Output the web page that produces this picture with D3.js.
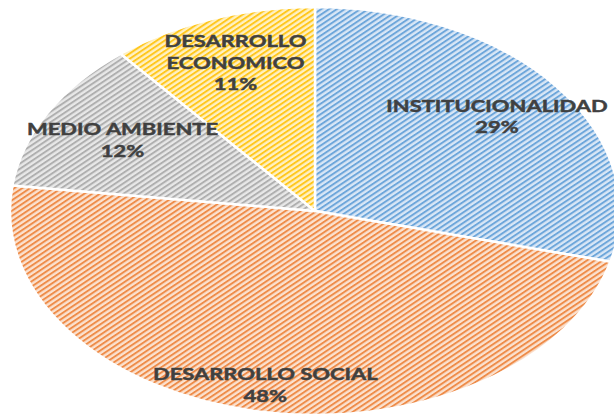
<!DOCTYPE html>
<html><head><meta charset="utf-8">
<script src="https://cdn.jsdelivr.net/npm/d3@7"></script>
<style>html,body{margin:0;padding:0;background:#fff;overflow:hidden}</style>
</head><body>
<svg id="c" width="614" height="420"></svg>
<script>
const categories = ["INSTITUCIONALIDAD", "DESARROLLO SOCIAL", "MEDIO AMBIENTE", "DESARROLLO ECONOMICO"];
const values = [29, 48, 12, 11];
const labelLines = [["INSTITUCIONALIDAD"], ["DESARROLLO SOCIAL"], ["MEDIO AMBIENTE"], ["DESARROLLO", "ECONOMICO"]];
const stripeColors = ["#5b9bd5", "#ed7d31", "#a5a5a5", "#ffc000"];
const bgColors = ["#d9e7f6", "#fbe2d0", "#e8e8e8", "#fff1c4"];
const labelRadius = [0.755, 0.87, 0.72, 0.77];

const W = 614, H = 420;
const cx = 315, cy = 211, rx = 305, ry = 204;
const R = ry, sx = rx / ry;

const svg = d3.select("#c");
const defs = svg.append("defs");
const p = 3.7;
stripeColors.forEach((c, i) => {
  const pat = defs.append("pattern").attr("id", "hatch" + i)
    .attr("patternUnits", "userSpaceOnUse").attr("width", p).attr("height", p)
    .attr("patternTransform", "rotate(-45)");
  pat.append("rect").attr("width", p).attr("height", p).attr("fill", bgColors[i]);
  pat.append("rect").attr("width", p).attr("height", p * 0.45).attr("fill", c).attr("opacity", 0.85);
});

const total = d3.sum(values);
const data = categories.map((c, i) => ({ cat: c, value: values[i], i }));
const pie = d3.pie().value(d => d.value).sort(null);
const arcs = pie(data);
const arc = d3.arc().innerRadius(0).outerRadius(R);

const g = svg.append("g").attr("transform", `translate(${cx},${cy}) scale(${sx},1)`);
g.selectAll("path").data(arcs).join("path")
  .attr("d", arc)
  .attr("fill", d => `url(#hatch${d.data.i})`)
  .attr("stroke", "#fff").attr("stroke-width", 2.5)
  .attr("vector-effect", "non-scaling-stroke")
  .attr("stroke-linejoin", "round");

const fmt = d3.format(".0%");
const lineH = 21.5;
const lbl = svg.append("g");
arcs.forEach(d => {
  const a = (d.startAngle + d.endAngle) / 2;
  const k = labelRadius[d.data.i];
  const x = cx + rx * k * Math.sin(a);
  const y = cy - ry * k * Math.cos(a);
  const lines = labelLines[d.data.i].concat([fmt(d.data.value / total)]);
  const n = lines.length;
  const tg = lbl.append("g").attr("transform", `translate(${x},${y}) scale(1.33,1)`);
  lines.forEach((t, j) => {
    tg.append("text")
      .attr("x", 0).attr("y", (j - (n - 1) / 2) * lineH)
      .attr("dy", "0.35em")
      .attr("text-anchor", "middle")
      .attr("font-family", "Lato, 'Open Sans', sans-serif")
      .attr("font-weight", 700).attr("font-size", 16.5)
      .attr("fill", "#404040")
      .attr("stroke", "#404040").attr("stroke-width", 0.45)
      .text(t);
  });
});
</script>
</body></html>
